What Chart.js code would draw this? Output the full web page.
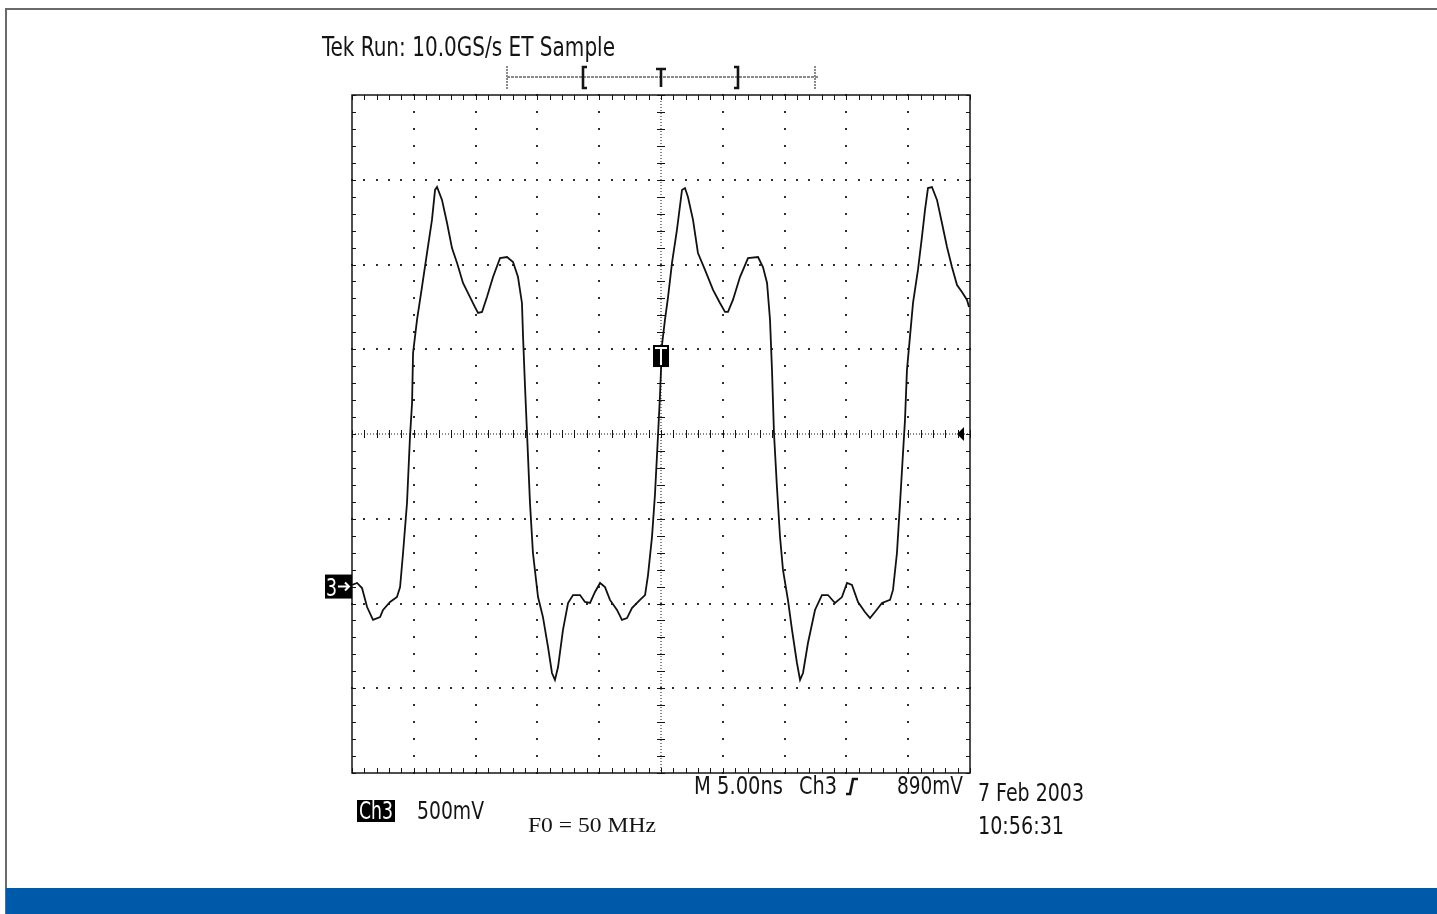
<!DOCTYPE html>
<html>
<head>
<meta charset="utf-8">
<title>Tek Run: 10.0GS/s ET Sample</title>
<script src="https://cdn.jsdelivr.net/npm/chart.js@4.4.1/dist/chart.umd.min.js"></script>
<style>
    html, body { margin: 0; padding: 0; background: #fff; }
    #page { position: relative; width: 1437px; height: 914px; overflow: hidden; background: #fff; }
    #frame { position: absolute; left: 5px; top: 8px; width: 1440px; height: 910px; border-top: 2px solid #6a6a6a; border-left: 2px solid #6a6a6a; }
    #band { position: absolute; left: 6px; right: 0; top: 888px; height: 26px; background: #005aaa; }
    #scope { position: absolute; left: 0; top: 0; }
</style>
</head>
<body>
<div id="page">
    <div id="frame"></div>
    <div id="band"></div>
    <canvas id="scope" width="1437" height="914"></canvas>
</div>
<script>
// Ch3 trace: time (ns, trigger at 0) and volts (mV above ground)
const timeNs = [
    -25.00, -24.59, -24.19, -23.78, -23.30, -22.73, -22.49, -21.92, -21.36, -21.11,
    -20.87, -20.55, -20.31, -20.14, -20.06, -19.74, -19.34, -18.93, -18.53, -18.28,
    -18.12, -17.72, -17.31, -16.91, -16.50, -16.02, -15.45, -15.05, -14.80, -14.48,
    -14.08, -13.59, -13.02, -12.46, -11.97, -11.57, -11.25, -11.16, -11.00, -10.84,
    -10.60, -10.36, -9.95, -9.55, -9.14, -8.82, -8.58, -8.33, -7.93, -7.52,
    -7.12, -6.55, -6.15, -5.74, -5.34, -4.93, -4.53, -4.13, -3.56, -3.16,
    -2.75, -2.35, -1.70, -1.29, -1.05, -0.73, -0.49, -0.24, -0.08, 0.08,
    0.32, 0.57, 0.89, 1.29, 1.70, 1.94, 2.18, 2.59, 2.99, 3.56,
    4.21, 4.77, 5.18, 5.42, 5.82, 6.39, 7.04, 7.85, 8.25, 8.58,
    8.82, 8.98, 9.14, 9.38, 9.63, 9.87, 10.27, 10.60, 11.00, 11.25,
    11.49, 11.89, 12.46, 13.02, 13.51, 14.08, 14.64, 15.05, 15.45, 15.94,
    16.50, 16.91, 17.31, 17.88, 18.53, 18.77, 19.09, 19.34, 19.58, 19.74,
    19.90, 20.14, 20.39, 20.79, 21.11, 21.36, 21.60, 21.92, 22.33, 22.73,
    23.14, 23.54, 23.95, 24.35, 24.76, 24.92
];

const ch3Mv = [
    9, 21, -9, -121, -197, -180, -138, -91, -62, -3,
    198, 493, 882, 1083, 1378, 1573, 1767, 1968, 2163, 2340,
    2357, 2281, 2145, 1997, 1909, 1791, 1708, 1649, 1614, 1620,
    1708, 1826, 1938, 1944, 1915, 1826, 1673, 1472, 1177, 906,
    493, 198, -62, -180, -357, -510, -551, -475, -256, -97,
    -50, -50, -91, -97, -32, 21, -3, -79, -138, -197,
    -186, -127, -79, -50, 68, 292, 540, 894, 1130, 1425,
    1573, 1708, 1909, 2104, 2340, 2351, 2298, 2163, 1968, 1868,
    1750, 1673, 1620, 1620, 1691, 1826, 1938, 1944, 1885, 1791,
    1573, 1278, 906, 587, 292, 98, -79, -256, -451, -551,
    -510, -333, -138, -50, -50, -97, -62, 21, 9, -91,
    -150, -186, -150, -97, -79, -20, 198, 493, 788, 983,
    1278, 1472, 1673, 1868, 2062, 2222, 2351, 2357, 2281, 2145,
    2003, 1885, 1779, 1738, 1691, 1649
];

// screen: 10 divisions of 5 ns, 8 divisions of 500 mV, centre line at 900 mV
const timeRange = [-25, 25];
const voltRange = [-1100, 2900];
const timePerDiv = 5;
const voltPerDiv = 500;
const centreMv = 900;
const triggerLevelMv = 1360;
const recordWindowNs = [-12.46, 12.46];
const recordBracketsNs = [-6.3, 6.25];

const titleText = 'Tek Run: 10.0GS/s ET Sample';
const channelLabel = 'Ch3';
const scaleLabel = '500mV';
const timebaseLabel = 'M 5.00ns';
const triggerLabel = '890mV';
const dateLabel = '7 Feb 2003';
const timeLabel = '10:56:31';
const freqLabel = 'F0 = 50 MHz';

const theme = {
    ink: '#141414',
    grid: '#2e2e2e',
    faint: '#8a8a8a',
    trace: '#111111'
};

const scopeFont = '"DejaVu Sans Condensed", "DejaVu Sans", sans-serif';

function fitText(ctx, text, x, baseline, width, size, color, family) {
    ctx.save();
    ctx.font = `${size}px ${family || scopeFont}`;
    ctx.fillStyle = color || theme.ink;
    ctx.textBaseline = 'alphabetic';
    ctx.textAlign = 'left';
    const measured = ctx.measureText(text).width || 1;
    ctx.translate(x, baseline);
    ctx.scale(width / measured, 1);
    ctx.fillText(text, 0, 0);
    ctx.restore();
}

function dot(ctx, x, y, size) {
    const s = size || 2;
    ctx.fillRect(Math.round(x - s / 2), Math.round(y - s / 2), s, s);
}

function range(start, stop, step) {
    const out = [];
    for (let v = start; v <= stop + 1e-9; v += step) out.push(v);
    return out;
}

const graticulePlugin = {
    id: 'graticule',
    beforeDatasetsDraw(chart) {
        const { ctx, chartArea: area, scales } = chart;
        const xs = scales.x;
        const ys = scales.y;
        const minorT = range(timeRange[0], timeRange[1], timePerDiv / 5);
        const minorV = range(voltRange[0], voltRange[1], voltPerDiv / 5);
        const majorT = range(timeRange[0] + timePerDiv, timeRange[1] - timePerDiv, timePerDiv).filter(t => Math.abs(t) > 1e-6);
        const majorV = range(voltRange[0] + voltPerDiv, voltRange[1] - voltPerDiv, voltPerDiv).filter(v => Math.abs(v - centreMv) > 1e-6);
        const cx = Math.round(xs.getPixelForValue(0));
        const cy = Math.round(ys.getPixelForValue(centreMv));

        ctx.save();
        ctx.fillStyle = theme.grid;

        // dotted division lines
        majorT.forEach(t => {
            const px = xs.getPixelForValue(t);
            minorV.forEach(v => dot(ctx, px, ys.getPixelForValue(v), 2));
        });
        majorV.forEach(v => {
            const py = ys.getPixelForValue(v);
            minorT.forEach(t => dot(ctx, xs.getPixelForValue(t), py, 2));
        });

        // centre cross: fine dotted line with minor ticks
        ctx.fillStyle = theme.faint;
        for (let y = area.top; y <= area.bottom; y += 3) ctx.fillRect(cx - 1, y, 2, 1);
        for (let x = area.left; x <= area.right; x += 3) ctx.fillRect(x, cy - 1, 1, 2);

        ctx.strokeStyle = theme.ink;
        ctx.lineWidth = 1;
        ctx.beginPath();
        minorV.forEach(v => {
            const py = Math.round(ys.getPixelForValue(v)) + 0.5;
            ctx.moveTo(cx - 4, py);
            ctx.lineTo(cx + 4, py);
            ctx.moveTo(area.left, py);
            ctx.lineTo(area.left + 4, py);
            ctx.moveTo(area.right - 4, py);
            ctx.lineTo(area.right, py);
        });
        minorT.forEach(t => {
            const px = Math.round(xs.getPixelForValue(t)) + 0.5;
            ctx.moveTo(px, cy - 4);
            ctx.lineTo(px, cy + 4);
            ctx.moveTo(px, area.top);
            ctx.lineTo(px, area.top + 5);
            ctx.moveTo(px, area.bottom - 5);
            ctx.lineTo(px, area.bottom);
        });
        ctx.stroke();

        // screen border
        ctx.strokeStyle = theme.ink;
        ctx.lineWidth = 1.5;
        ctx.strokeRect(area.left, area.top, area.right - area.left, area.bottom - area.top);
        ctx.restore();
    },
    afterDatasetsDraw(chart) {
        const { ctx, chartArea: area, scales } = chart;
        const xs = scales.x;
        const ys = scales.y;
        const cx = xs.getPixelForValue(0);
        const cy = ys.getPixelForValue(centreMv);

        ctx.save();

        // record window bar above the screen
        const barY = 77;
        const barL = xs.getPixelForValue(recordWindowNs[0]);
        const barR = xs.getPixelForValue(recordWindowNs[1]);
        ctx.fillStyle = theme.faint;
        for (let x = barL; x <= barR; x += 4) ctx.fillRect(Math.round(x), barY - 1, 3, 2);
        for (let y = 66; y <= 88; y += 3) {
            ctx.fillRect(Math.round(barL) - 1, y, 2, 2);
            ctx.fillRect(Math.round(barR) - 1, y, 2, 2);
        }
        ctx.strokeStyle = theme.ink;
        ctx.lineWidth = 2.6;
        const bl = Math.round(xs.getPixelForValue(recordBracketsNs[0]));
        const br = Math.round(xs.getPixelForValue(recordBracketsNs[1]));
        ctx.beginPath();
        ctx.moveTo(bl + 4, 67); ctx.lineTo(bl, 67); ctx.lineTo(bl, 88); ctx.lineTo(bl + 4, 88);
        ctx.moveTo(br - 4, 67); ctx.lineTo(br, 67); ctx.lineTo(br, 88); ctx.lineTo(br - 4, 88);
        ctx.moveTo(cx - 5, 69); ctx.lineTo(cx + 5, 69);
        ctx.moveTo(cx, 69); ctx.lineTo(cx, 87);
        ctx.stroke();

        // ground marker "3->"
        const gy = ys.getPixelForValue(0);
        ctx.fillStyle = '#000';
        ctx.fillRect(area.left - 27, gy - 12, 27, 24);
        fitText(ctx, '3', area.left - 26, gy + 9, 11, 24, '#fff');
        ctx.strokeStyle = '#fff';
        ctx.lineWidth = 2;
        ctx.beginPath();
        ctx.moveTo(area.left - 14, gy);
        ctx.lineTo(area.left - 3, gy);
        ctx.moveTo(area.left - 7, gy - 4);
        ctx.lineTo(area.left - 3, gy);
        ctx.lineTo(area.left - 7, gy + 4);
        ctx.stroke();

        // trigger level marker on the trigger position
        const ty = ys.getPixelForValue(triggerLevelMv);
        ctx.fillStyle = '#000';
        ctx.fillRect(cx - 8, ty - 11, 16, 22);
        ctx.fillStyle = '#fff';
        ctx.fillRect(cx - 6, ty - 9, 12, 2);
        ctx.fillRect(cx - 1, ty - 9, 2, 18);

        // centre-line pointer at the right edge
        ctx.fillStyle = '#000';
        ctx.beginPath();
        ctx.moveTo(area.right - 13, cy);
        ctx.lineTo(area.right - 6, cy - 7);
        ctx.lineTo(area.right - 6, cy + 7);
        ctx.closePath();
        ctx.fill();

        // readouts
        fitText(ctx, titleText, 322, 56, 293, 26, theme.ink);
        fitText(ctx, timebaseLabel, 694, 794, 89, 25, theme.ink);
        fitText(ctx, 'Ch3', 799, 794, 38, 25, theme.ink);
        ctx.strokeStyle = theme.ink;
        ctx.lineWidth = 2.6;
        ctx.beginPath();
        ctx.moveTo(846, 794); ctx.lineTo(850, 794);
        ctx.lineTo(853, 779); ctx.lineTo(858, 779);
        ctx.stroke();
        fitText(ctx, triggerLabel, 897, 794, 66, 25, theme.ink);
        fitText(ctx, dateLabel, 978, 801, 106, 25, theme.ink);
        fitText(ctx, timeLabel, 978, 834, 86, 25, theme.ink);

        ctx.fillStyle = '#000';
        ctx.fillRect(357, 800, 38, 22);
        fitText(ctx, channelLabel, 359, 819, 34, 24, '#fff');
        fitText(ctx, scaleLabel, 417, 819, 67, 25, theme.ink);
        fitText(ctx, freqLabel, 528, 832, 128, 21, theme.ink, '"Liberation Serif", "DejaVu Serif", serif');

        ctx.restore();
    }
};

const tracePoints = timeNs.map((t, i) => ({ x: t, y: ch3Mv[i] }));

new Chart(document.getElementById('scope').getContext('2d'), {
    type: 'scatter',
    data: {
        datasets: [{
            label: channelLabel,
            data: tracePoints,
            showLine: true,
            borderColor: theme.trace,
            borderWidth: 1.8,
            pointRadius: 0,
            tension: 0,
            fill: false
        }]
    },
    options: {
        responsive: false,
        animation: false,
        layout: { padding: { left: 352, top: 95, right: 467, bottom: 141 } },
        plugins: {
            legend: { display: false },
            tooltip: { enabled: false }
        },
        scales: {
            x: { type: 'linear', min: timeRange[0], max: timeRange[1], display: false },
            y: { type: 'linear', min: voltRange[0], max: voltRange[1], display: false }
        }
    },
    plugins: [graticulePlugin]
});
</script>
</body>
</html>
